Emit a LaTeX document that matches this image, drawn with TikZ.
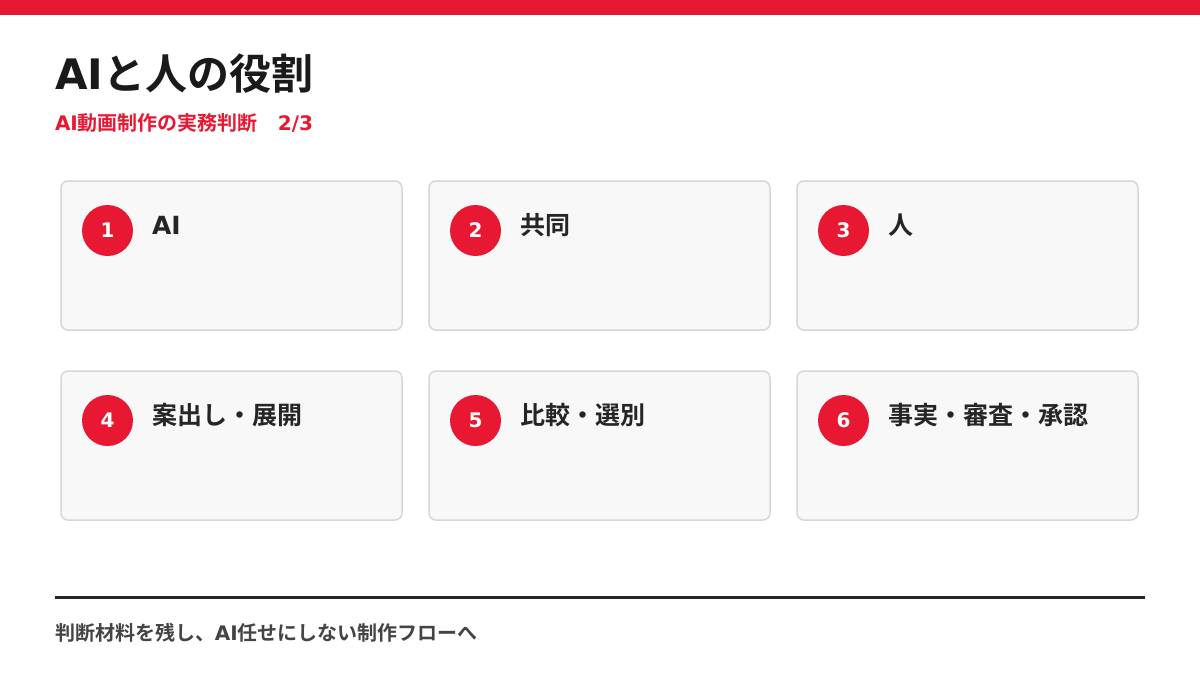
\documentclass[tikz,border=0pt]{standalone}
\usepackage{fontspec}
\setmainfont{Noto Sans CJK JP}[BoldFont={Noto Sans CJK JP Bold}]
\newfontfamily\lat{DejaVu Sans}
\usetikzlibrary{positioning}

\definecolor{accent}{RGB}{232,24,50}
\definecolor{ink}{RGB}{26,26,26}
\definecolor{cardfill}{RGB}{248,248,248}
\definecolor{cardline}{RGB}{214,214,214}
\definecolor{note}{RGB}{68,68,68}

\begin{document}
\begin{tikzpicture}[
  x=1pt, y=-1pt,
  every node/.style={inner sep=0pt, outer sep=0pt},
  card/.style={draw=cardline, line width=1.5pt, fill=cardfill, rounded corners=7pt,
    minimum width=341pt, minimum height=149pt, anchor=north west},
  badge/.style={circle, fill=accent, minimum size=51pt, text=white,
    font=\fontsize{20}{24}\selectfont\bfseries\lat},
  cardlabel/.style={anchor=base west, text=ink!95, font=\fontsize{25}{30}\selectfont\bfseries},
  heading/.style={anchor=base west, text=ink, font=\fontsize{42}{50}\selectfont\bfseries},
  subheading/.style={anchor=base west, text=accent, font=\fontsize{20}{24}\selectfont\bfseries},
  footnote/.style={anchor=base west, text=note, font=\fontsize{20}{24}\selectfont\bfseries}
]

% Page and top band
\useasboundingbox (0,0) rectangle (1200,675);
\fill[white] (0,0) rectangle (1200,675);
\fill[accent] (0,0) rectangle (1200,15);

% Heading
\node[heading] (title) at (55,89) {{\lat AI}と人の役割};
\node[subheading] (subtitle) at (55,130) {{\lat AI}動画制作の実務判断　{\lat 2/3}};

% Cards (first row)
\node[card] (card1) at (61,181) {};
\node[card] (card2) at (429,181) {};
\node[card] (card3) at (797,181) {};

% Cards (second row)
\node[card] (card4) at (61,371) {};
\node[card] (card5) at (429,371) {};
\node[card] (card6) at (797,371) {};

% Numbered badges
\node[badge] (num1) at ([xshift=46.5pt,yshift=-49.5pt]card1.north west) {1};
\node[badge] (num2) at ([xshift=46.5pt,yshift=-49.5pt]card2.north west) {2};
\node[badge] (num3) at ([xshift=46.5pt,yshift=-49.5pt]card3.north west) {3};
\node[badge] (num4) at ([xshift=46.5pt,yshift=-49.5pt]card4.north west) {4};
\node[badge] (num5) at ([xshift=46.5pt,yshift=-49.5pt]card5.north west) {5};
\node[badge] (num6) at ([xshift=46.5pt,yshift=-49.5pt]card6.north west) {6};

% Card labels
\node[cardlabel] (lab1) at ([xshift=91pt,yshift=-53pt]card1.north west) {{\lat AI}};
\node[cardlabel] (lab2) at ([xshift=91pt,yshift=-53pt]card2.north west) {共同};
\node[cardlabel] (lab3) at ([xshift=91pt,yshift=-53pt]card3.north west) {人};
\node[cardlabel] (lab4) at ([xshift=91pt,yshift=-53pt]card4.north west) {案出し・展開};
\node[cardlabel] (lab5) at ([xshift=91pt,yshift=-53pt]card5.north west) {比較・選別};
\node[cardlabel] (lab6) at ([xshift=91pt,yshift=-53pt]card6.north west) {事実・審査・承認};

% Footer rule and note
\coordinate (ruleL) at (55,597.5);
\coordinate (ruleR) at (1145,597.5);
\draw[ink!95, line width=3pt] (ruleL) -- (ruleR);
\node[footnote] (closing) at (55,640) {判断材料を残し、{\lat AI}任せにしない制作フローへ};
\end{tikzpicture}
\end{document}
